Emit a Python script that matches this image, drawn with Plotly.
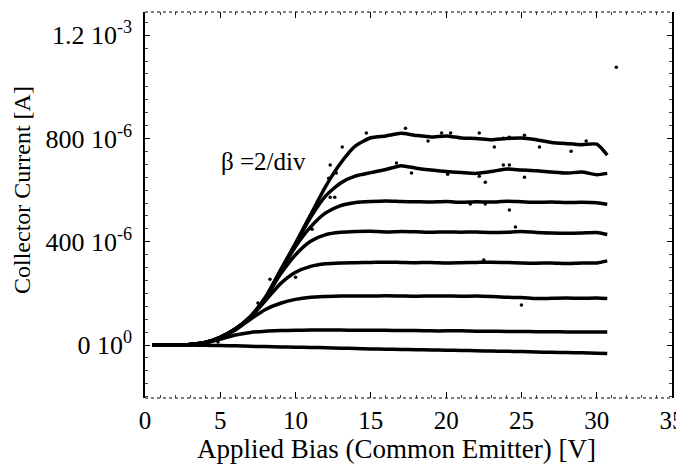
import plotly.graph_objects as go

# Applied bias grid (V)
bias_v = [0.5, 2, 3, 4, 5, 6, 7, 8, 9, 10, 11, 12, 13, 14, 15, 16, 17, 18, 19, 20,
          21, 22, 23, 24, 25, 26, 27, 28, 29, 30, 30.7]

# Collector current curves (microamps), top to bottom
curve_1 = [0, 0, 2, 10, 30, 62, 110, 185, 290, 395, 505, 615, 705, 772, 803, 810, 820, 812, 806, 810,
           802, 800, 795, 800, 802, 795, 785, 780, 776, 778, 736]
curve_2 = [0, 0, 2, 10, 30, 62, 110, 184, 288, 392, 495, 578, 628, 655, 668, 680, 695, 685, 678, 672,
           668, 665, 672, 682, 678, 675, 670, 666, 670, 660, 665]
curve_3 = [0, 0, 2, 10, 30, 62, 110, 184, 286, 382, 458, 512, 540, 552, 556, 558, 556, 555, 554, 556,
           553, 555, 554, 557, 555, 553, 554, 552, 553, 551, 545]
curve_4 = [0, 0, 2, 10, 30, 62, 110, 182, 275, 350, 402, 428, 437, 440, 441, 438, 440, 439, 437, 438,
           437, 438, 436, 437, 440, 436, 434, 433, 434, 436, 428]
curve_5 = [0, 0, 2, 10, 30, 62, 108, 172, 238, 282, 305, 315, 318, 319, 320, 321, 320, 319, 320, 318,
           319, 320, 321, 320, 318, 317, 318, 316, 318, 318, 326]
curve_6 = [0, 0, 2, 9, 28, 58, 100, 138, 162, 177, 185, 188, 190, 190, 190, 191, 190, 189, 190, 190,
           189, 190, 188, 185, 184, 180, 181, 182, 181, 182, 180]
curve_7 = [0, 0, 2, 8, 23, 39, 49, 54, 56, 57, 58, 58, 58, 57, 57, 57, 56, 56, 55, 55,
           55, 54, 54, 53, 53, 52, 52, 51, 51, 51, 51]
curve_8 = [0, 0, 0, -1, -2, -3, -5, -6, -7, -8, -9, -10, -12, -13, -15, -16, -17, -18, -19, -20,
           -21, -22, -23, -24, -25, -27, -28, -29, -30, -32, -33]

curves = [curve_1, curve_2, curve_3, curve_4, curve_5, curve_6, curve_7, curve_8]

# Stray measured points (V, microamps)
stray_v = [13.1, 14.7, 17.3, 12.3, 12.2, 12.7, 12.3, 12.6, 18.8, 16.7, 17.7, 19.7, 20.3, 22.2,
           23.2, 23.8, 24.2, 25.2, 26.2, 28.3, 29.3, 20.1, 22.2, 22.6, 23.8, 24.2, 25.2, 31.3,
           24.2, 24.6, 25.0, 21.6, 22.6, 22.5, 11.1, 10.5, 9.1, 8.3, 10.0, 7.5, 8.0, 4.85, 13.1]
stray_i = [767, 821, 840, 697, 646, 666, 573, 573, 790, 705, 666, 821, 821, 821,
           767, 801, 805, 813, 767, 751, 790, 662, 654, 631, 697, 697, 650, 1076,
           523, 457, 155, 546, 546, 329, 449, 426, 290, 255, 263, 163, 174, 12, 542]

# Axis ticks
x_ticks = [0, 5, 10, 15, 20, 25, 30, 35]
y_tickvals = [0, 400, 800, 1200]
y_ticktext = ["0 10<sup>0</sup>", "400 10<sup>-6</sup>", "800 10<sup>-6</sup>", "1.2 10<sup>-3</sup>"]

FONT = "Liberation Serif, Times New Roman, serif"

# page body adds an 8px offset; figure sized so it fills the 684x475 window
W, H = 676, 467
L, R, T, B = 137, 12, 4, 77
PW, PH = W - L - R, H - T - B
OX, OY = 8, 8  # body offset in screenshot pixels
PL, PB = L + OX, H - B + OY  # plot left / bottom in screenshot pixels

fig = go.Figure()
for c in curves:
    fig.add_trace(go.Scatter(x=bias_v, y=c, mode="lines",
                             line=dict(color="black", width=3.5, shape="spline", smoothing=0.6),
                             showlegend=False, hoverinfo="skip"))
fig.add_trace(go.Scatter(x=stray_v, y=stray_i, mode="markers",
                         marker=dict(color="black", size=3.5), showlegend=False))

fig.update_layout(
    width=W, height=H,
    margin=dict(l=L, r=R, t=T, b=B, autoexpand=False),
    paper_bgcolor="white", plot_bgcolor="white",
    font=dict(family=FONT, size=25, color="black"),
    showlegend=False,
    xaxis=dict(range=[0, 35], tickvals=x_ticks, ticks="inside", ticklen=6, tickwidth=1,
               tickcolor="black", mirror="ticks", showline=False, showgrid=False, zeroline=False,
               automargin=False, ticklabelstandoff=5, ticklabeloverflow="allow",
               tickfont=dict(family=FONT, size=25, color="black"),
               minor=dict(dtick=1, ticks="inside", ticklen=3, tickcolor="#444", showgrid=False)),
    yaxis=dict(range=[-205, 1290], tickvals=y_tickvals, ticktext=y_ticktext, ticks="inside",
               ticklen=5, tickcolor="black", mirror="ticks", showline=True, linecolor="black",
               linewidth=1.5, showgrid=False, zeroline=False, automargin=False,
               ticklabelstandoff=6, ticklabeloverflow="allow",
               tickfont=dict(family=FONT, size=26, color="black"),
               minor=dict(dtick=50, ticks="inside", ticklen=3, tickcolor="#444", showgrid=False)),
    shapes=[
        dict(type="line", xref="paper", yref="paper", x0=0, x1=1, y0=1, y1=1,
             line=dict(color="black", width=1.2, dash="dot")),
        dict(type="line", xref="paper", yref="paper", x0=0, x1=1, y0=0, y1=0,
             line=dict(color="black", width=1.2, dash="dot")),
    ],
    annotations=[
        dict(text="Applied Bias (Common Emitter) [V]", xref="paper", yref="paper",
             x=(396 - PL) / PW, y=-(449 - PB) / PH, showarrow=False,
             xanchor="center", yanchor="middle", font=dict(size=27)),
        dict(text="Collector Current [A]", xref="paper", yref="paper",
             x=-(PL - 22) / PW, y=(PB - 190) / PH, showarrow=False, textangle=-90,
             xanchor="center", yanchor="middle", font=dict(size=24)),
        dict(text="β =2/div", x=7.9, y=712, showarrow=False, xanchor="center",
             yanchor="middle", font=dict(size=25)),
    ],
)

fig.write_html("out.html")
